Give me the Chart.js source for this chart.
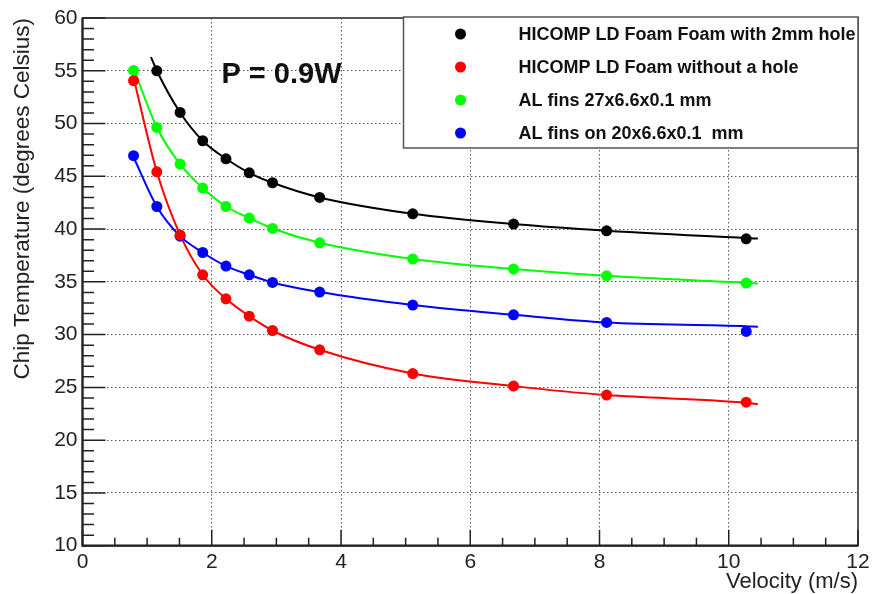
<!DOCTYPE html>
<html>
<head>
<meta charset="utf-8">
<script src="https://cdn.jsdelivr.net/npm/chart.js@4/dist/chart.umd.min.js"></script>
<style>
  html, body { margin: 0; padding: 0; background: #fff; }
  #box { width: 874px; height: 594px; }
</style>
</head>
<body>
<div id="box"><canvas id="myChart"></canvas></div>
<script>
const velocity = [0.79, 1.15, 1.51, 1.86, 2.22, 2.58, 2.94, 3.67, 5.11, 6.67, 8.11, 10.27];
const holeTemp = [null, 55.0, 51.05, 48.37, 46.66, 45.33, 44.39, 43.0, 41.45, 40.47, 39.84, 39.08];
const noHoleTemp = [54.06, 45.43, 39.45, 35.67, 33.39, 31.75, 30.39, 28.56, 26.31, 25.12, 24.27, 23.6];
const fins27Temp = [55.03, 49.63, 46.16, 43.89, 42.14, 41.04, 40.06, 38.7, 37.16, 36.21, 35.57, 34.88];
const fins20Temp = [46.95, 42.14, 39.33, 37.78, 36.49, 35.67, 34.94, 34.03, 32.8, 31.88, 31.15, 30.3];

// fitted curves
const holeFitVel = [1.06, 1.15, 1.51, 1.86, 2.22, 2.58, 2.94, 3.67, 5.11, 6.67, 8.11, 10.27, 10.45];
const holeFitTemp = [56.3, 55.0, 51.05, 48.37, 46.66, 45.33, 44.39, 43.0, 41.45, 40.47, 39.84, 39.15, 39.1];
const fitVel = [0.78, 1.15, 1.51, 1.86, 2.22, 2.58, 2.94, 3.67, 5.11, 6.67, 8.11, 10.27, 10.45];
const noHoleFitTemp = [54.6, 45.43, 39.45, 35.67, 33.39, 31.75, 30.39, 28.56, 26.31, 25.12, 24.27, 23.55, 23.41];
const fins27FitTemp = [55.4, 49.63, 46.16, 43.89, 42.14, 41.04, 40.06, 38.7, 37.16, 36.21, 35.57, 34.9, 34.84];
const fins20FitTemp = [46.95, 42.14, 39.33, 37.78, 36.49, 35.67, 34.94, 34.03, 32.8, 31.88, 31.15, 30.8, 30.74];

const seriesNames = [
  "HICOMP LD Foam Foam with 2mm hole",
  "HICOMP LD Foam without a hole",
  "AL fins 27x6.6x0.1 mm",
  "AL fins on 20x6.6x0.1  mm",
];
const seriesColors = ["#000000", "#ff0000", "#00ff00", "#0000ff"];

const xTicks = [0, 2, 4, 6, 8, 10, 12];
const yTicks = [10, 15, 20, 25, 30, 35, 40, 45, 50, 55, 60];

const FONT = "'Liberation Sans', Arial, sans-serif";

function toPoints(xs, ys) {
  const pts = [];
  xs.forEach((v, i) => { if (ys[i] != null) pts.push({ x: v, y: ys[i] }); });
  return pts;
}

function pointSet(i, temps) {
  return {
    label: seriesNames[i],
    data: toPoints(velocity, temps),
    showLine: false,
    pointRadius: 5.5,
    pointBackgroundColor: seriesColors[i],
    pointBorderWidth: 0,
    backgroundColor: seriesColors[i],
    inLegend: true,
    order: 0,
  };
}

function fitSet(i, xs, temps) {
  return {
    label: seriesNames[i] + " fit",
    data: toPoints(xs, temps),
    showLine: true,
    pointRadius: 0,
    borderColor: seriesColors[i],
    borderWidth: 2,
    cubicInterpolationMode: "monotone",
    order: 1,
  };
}

// ROOT style frame: ticks inside, boxed plot, legend and label
const rootStyle = {
  id: "rootStyle",
  beforeDatasetsDraw(chart) {
    const { ctx, chartArea: a, scales: { x, y } } = chart;
    ctx.save();
    ctx.strokeStyle = "#222";
    ctx.lineWidth = 1.5;
    ctx.beginPath();
    for (let v = yTicks[0]; v <= yTicks[yTicks.length - 1]; v += 1) {
      const py = y.getPixelForValue(v);
      const len = v % 5 === 0 ? 23 : 11.5;
      ctx.moveTo(a.left, py);
      ctx.lineTo(a.left + len, py);
    }
    for (let k = 0; k <= 24; k++) {
      const v = k * 0.5;
      const px = x.getPixelForValue(v);
      const len = v % 2 === 0 ? 16 : 8;
      ctx.moveTo(px, a.bottom);
      ctx.lineTo(px, a.bottom - len);
    }
    ctx.stroke();
    // frame
    ctx.lineWidth = 1.5;
    ctx.strokeRect(a.left, a.top, a.right - a.left, a.bottom - a.top);
    ctx.lineWidth = 2.2;
    ctx.beginPath();
    ctx.moveTo(a.left, a.top);
    ctx.lineTo(a.left, a.bottom);
    ctx.lineTo(a.right, a.bottom);
    ctx.stroke();
    ctx.restore();
  },
  afterDraw(chart) {
    const { ctx, chartArea: a, scales: { x, y } } = chart;
    ctx.save();
    // "P = 0.9W" label
    ctx.fillStyle = "#111";
    ctx.font = "bold 29px " + FONT;
    ctx.textAlign = "left";
    ctx.textBaseline = "middle";
    ctx.fillText("P = 0.9W", x.getPixelForValue(2.15), y.getPixelForValue(54.6));

    // legend box
    const bx = a.left + 321, by = a.top - 1, bw = a.right - bx, bh = 131;
    ctx.fillStyle = "#fff";
    ctx.fillRect(bx, by, bw, bh);
    ctx.strokeStyle = "#555";
    ctx.lineWidth = 1.5;
    ctx.strokeRect(bx, by, bw, bh);
    ctx.font = "bold 18px " + FONT;
    const items = chart.data.datasets.filter(d => d.inLegend);
    items.forEach((d, i) => {
      const cy = by + 17 + i * 33;
      ctx.fillStyle = d.backgroundColor;
      ctx.beginPath();
      ctx.arc(bx + 57, cy, 5.5, 0, Math.PI * 2);
      ctx.fill();
      ctx.fillStyle = "#111";
      ctx.fillText(d.label, bx + 115, cy + 1);
    });
    ctx.restore();
  },
};

new Chart("myChart", {
  type: "scatter",
  data: {
    datasets: [
      pointSet(0, holeTemp),
      pointSet(1, noHoleTemp),
      pointSet(2, fins27Temp),
      pointSet(3, fins20Temp),
      fitSet(0, holeFitVel, holeFitTemp),
      fitSet(1, fitVel, noHoleFitTemp),
      fitSet(2, fitVel, fins27FitTemp),
      fitSet(3, fitVel, fins20FitTemp),
    ],
  },
  options: {
    responsive: true,
    maintainAspectRatio: false,
    animation: false,
    layout: { padding: { top: 18, right: 16, left: 0, bottom: 0 } },
    plugins: {
      legend: { display: false },
      tooltip: { enabled: false },
    },
    scales: {
      x: {
        type: "linear",
        min: xTicks[0],
        max: xTicks[xTicks.length - 1],
        afterBuildTicks: s => { s.ticks = xTicks.map(v => ({ value: v })); },
        afterFit: s => { s.height = 48.3; },
        ticks: { color: "#222", font: { family: FONT, size: 21 }, padding: 4, maxRotation: 0 },
        grid: {
          drawTicks: false,
          lineWidth: 1,
          color: c => (c.tick && (c.tick.value === 0 || c.tick.value === 12)) ? "rgba(0,0,0,0)" : "#555",
        },
        border: { display: false, dash: [1.5, 2.5] },
        title: {
          display: true,
          text: "Velocity (m/s)",
          align: "end",
          color: "#222",
          font: { family: FONT, size: 22 },
          padding: { top: 0, bottom: -1 },
        },
      },
      y: {
        min: yTicks[0],
        max: yTicks[yTicks.length - 1],
        afterBuildTicks: s => { s.ticks = yTicks.map(v => ({ value: v })); },
        afterFit: s => { s.width = 82.5; },
        ticks: { color: "#222", font: { family: FONT, size: 21 }, padding: 5 },
        grid: {
          drawTicks: false,
          lineWidth: 1,
          color: c => (c.tick && (c.tick.value === 10 || c.tick.value === 60)) ? "rgba(0,0,0,0)" : "#555",
        },
        border: { display: false, dash: [1.5, 2.5] },
        title: {
          display: true,
          text: "Chip Temperature (degrees Celsius)",
          align: "end",
          color: "#222",
          font: { family: FONT, size: 22.5 },
          padding: { top: 9, bottom: 0 },
        },
      },
    },
  },
  plugins: [rootStyle],
});
</script>
</body>
</html>
